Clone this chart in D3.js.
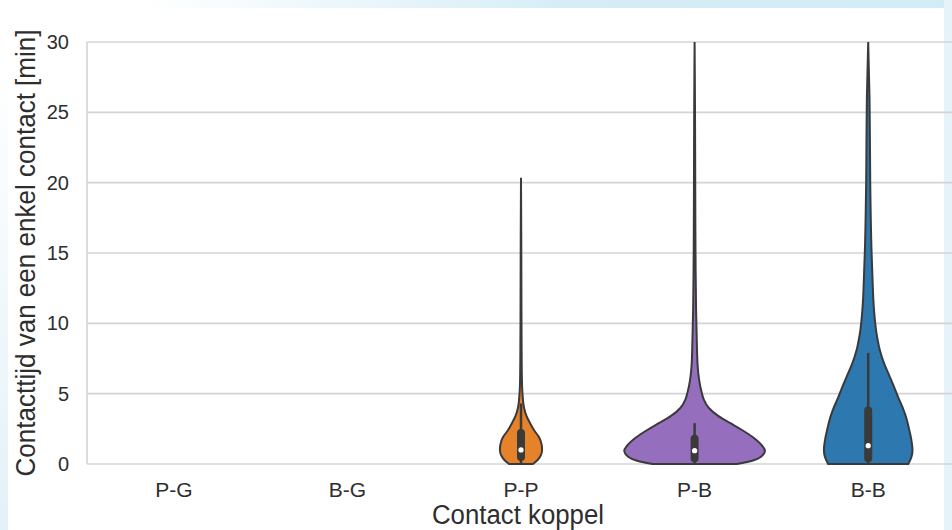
<!DOCTYPE html>
<html>
<head>
<meta charset="utf-8">
<script src="https://cdn.jsdelivr.net/npm/d3@7"></script>
<style>
  body { margin: 0; background: #fff; }
  svg { display: block; font-family: "Liberation Sans", Arial, sans-serif; }
</style>
</head>
<body>
<div id="chart"></div>
<script>
// categories on the x axis
const categories = ["P-G", "B-G", "P-P", "P-B", "B-B"];
const yTicks = [0, 5, 10, 15, 20, 25, 30];

// violin outlines: [value (min), relative density]
const ppProfile = [
  [0, 0.17], [0.3, 0.24], [0.6, 0.28], [1.0, 0.30], [1.4, 0.293], [1.9, 0.257],
  [2.4, 0.186], [2.9, 0.129], [3.4, 0.079], [4.0, 0.043], [5, 0.021], [6, 0.013],
  [8, 0.009], [12, 0.006], [16, 0.004], [20.3, 0]
];
const pbProfile = [
  [0, 0.60], [0.25, 0.83], [0.5, 0.94], [0.96, 1.0], [1.3, 0.96], [1.9, 0.83],
  [2.4, 0.68], [2.9, 0.51], [3.4, 0.34], [4.0, 0.20], [4.6, 0.13], [5.2, 0.095],
  [6.0, 0.064], [7, 0.043], [8.8, 0.031], [11, 0.021], [15, 0.013], [20, 0.009],
  [25, 0.006], [30, 0]
];
const bbProfile = [
  [0, 0.57], [0.5, 0.615], [0.96, 0.63], [1.9, 0.607], [2.4, 0.585], [3.3, 0.54],
  [4.0, 0.49], [4.7, 0.43], [5.7, 0.35], [6.4, 0.29], [7.1, 0.23], [8.1, 0.165],
  [8.8, 0.135], [9.5, 0.112], [10, 0.10], [11.9, 0.071], [12.8, 0.064], [15.2, 0.047],
  [20, 0.029], [26, 0.019], [30, 0]
];

// box stats: [whiskerLow, q1, median, q3, whiskerHigh]
const ppBox = [0, 0.5, 1.0, 2.2, 4.3];
const pbBox = [0, 0.4, 0.95, 1.8, 2.9];
const bbBox = [0, 0.4, 1.3, 3.8, 7.9];

const violins = [
  { cat: "P-P", profile: ppProfile, box: ppBox, color: "#e6832a" },
  { cat: "P-B", profile: pbProfile, box: pbBox, color: "#966ebe" },
  { cat: "B-B", profile: bbProfile, box: bbBox, color: "#2e78b0" }
];

const W = 952, H = 530;
const margin = { top: 42, right: -3, bottom: 66, left: 87 };
const width = W - margin.left - margin.right;
const height = H - margin.top - margin.bottom;

const svg = d3.select("#chart").append("svg")
  .attr("width", W)
  .attr("height", H);

// faint slide background tints
const defs = svg.append("defs");
const topGrad = defs.append("linearGradient").attr("id", "topGrad");
topGrad.append("stop").attr("offset", "0.15").attr("stop-color", "#ffffff");
topGrad.append("stop").attr("offset", "0.6").attr("stop-color", "#d6edf6");
topGrad.append("stop").attr("offset", "1").attr("stop-color", "#d3ebf5");
const sideGrad = defs.append("linearGradient").attr("id", "sideGrad")
  .attr("x1", 0).attr("x2", 0).attr("y1", 0).attr("y2", 1);
sideGrad.append("stop").attr("offset", "0").attr("stop-color", "#ffffff");
sideGrad.append("stop").attr("offset", "1").attr("stop-color", "#e3f1f8");
svg.append("rect").attr("x", 0).attr("y", 0).attr("width", W).attr("height", 8)
  .attr("fill", "url(#topGrad)");
svg.append("rect").attr("x", 0).attr("y", 60).attr("width", 8).attr("height", H - 60)
  .attr("fill", "url(#sideGrad)");
svg.append("rect").attr("x", W - 8).attr("y", 0).attr("width", 8).attr("height", H)
  .attr("fill", "#e6f3f9");

defs.append("clipPath").attr("id", "plotClip")
  .append("rect").attr("width", width).attr("height", height + 1);

const g = svg.append("g")
  .attr("transform", `translate(${margin.left},${margin.top})`);

const x = d3.scaleBand().domain(categories).range([0, width]);
const y = d3.scaleLinear().domain([0, 30]).range([height, 0]);
const w = d3.scaleLinear().domain([0, 1]).range([0, x.bandwidth() * 0.405]);

// grid
g.append("g")
  .selectAll("line")
  .data(yTicks)
  .join("line")
  .attr("x1", 0).attr("x2", width)
  .attr("y1", d => y(d)).attr("y2", d => y(d))
  .attr("stroke", "#d4d4d4")
  .attr("stroke-width", 1.6);

g.append("line")
  .attr("x1", 0).attr("x2", 0)
  .attr("y1", 0).attr("y2", height)
  .attr("stroke", "#d4d4d4")
  .attr("stroke-width", 1.6);

// y axis
const yAxis = g.append("g")
  .attr("transform", "translate(-18,0)")
  .call(d3.axisLeft(y).tickValues(yTicks).tickSize(0).tickPadding(0));
yAxis.select(".domain").remove();
yAxis.selectAll("text")
  .attr("font-size", 20)
  .attr("fill", "#2e2e2e");

// x axis
const xAxis = g.append("g")
  .attr("transform", `translate(0,${height})`)
  .call(d3.axisBottom(x).tickSize(0).tickPadding(18));
xAxis.select(".domain").remove();
xAxis.selectAll("text")
  .attr("font-size", 21)
  .attr("fill", "#2e2e2e");

// violins
const plot = g.append("g").attr("clip-path", "url(#plotClip)");

violins.forEach(v => {
  const cx = x(v.cat) + x.bandwidth() / 2;
  const area = d3.area()
    .y(d => y(d[0]))
    .x0(d => cx - w(d[1]))
    .x1(d => cx + w(d[1]))
    .curve(d3.curveMonotoneY);

  plot.append("path")
    .datum(v.profile)
    .attr("d", area)
    .attr("fill", v.color)
    .attr("stroke", "#3a3a3a")
    .attr("stroke-width", 2)
    .attr("stroke-linejoin", "round");

  const [lo, q1, med, q3, hi] = v.box;
  plot.append("line")
    .attr("x1", cx).attr("x2", cx)
    .attr("y1", y(lo)).attr("y2", y(hi))
    .attr("stroke", "#3a3a3a")
    .attr("stroke-width", 2.5);
  plot.append("line")
    .attr("x1", cx).attr("x2", cx)
    .attr("y1", y(q1)).attr("y2", y(q3))
    .attr("stroke", "#3a3a3a")
    .attr("stroke-width", 8)
    .attr("stroke-linecap", "round");
  plot.append("circle")
    .attr("cx", cx).attr("cy", y(med))
    .attr("r", 2.6)
    .attr("fill", "#ffffff");
});

// axis titles
svg.append("text")
  .attr("x", margin.left + width / 2 - 3)
  .attr("y", 524)
  .attr("text-anchor", "middle")
  .attr("font-size", 27)
  .attr("fill", "#2e2e2e")
  .attr("textLength", 172)
  .attr("lengthAdjust", "spacingAndGlyphs")
  .text("Contact koppel");

svg.append("text")
  .attr("transform", `translate(35,${margin.top + height / 2}) rotate(-90)`)
  .attr("text-anchor", "middle")
  .attr("font-size", 27)
  .attr("fill", "#2e2e2e")
  .attr("textLength", 447)
  .attr("lengthAdjust", "spacingAndGlyphs")
  .text("Contacttijd van een enkel contact [min]");
</script>
</body>
</html>
